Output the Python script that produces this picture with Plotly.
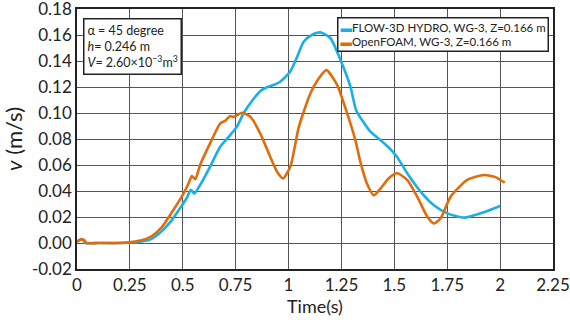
import plotly.graph_objects as go

# FLOW-3D HYDRO series
t_flow = [0, 0.01, 0.02, 0.03, 0.04, 0.1, 0.2, 0.3, 0.35, 0.4, 0.45, 0.488, 0.52, 0.538, 0.554,
          0.582, 0.63, 0.677, 0.724, 0.756, 0.788, 0.835, 0.867, 0.9, 0.929, 0.96, 1.008, 1.04,
          1.072, 1.11, 1.15, 1.198, 1.245, 1.293, 1.32, 1.387, 1.435, 1.47, 1.514, 1.561, 1.624,
          1.687, 1.75, 1.83, 1.908, 2.0]
v_flow = [0.001, 0.002, 0.003, 0.002, 0.0, 0.0, 0.0, 0.001, 0.003, 0.009, 0.018, 0.027, 0.035,
          0.041, 0.038, 0.0446, 0.059, 0.074, 0.083, 0.0895, 0.1, 0.111, 0.117, 0.12, 0.1215,
          0.124, 0.132, 0.143, 0.155, 0.16, 0.162, 0.1575, 0.141, 0.12, 0.102, 0.0856, 0.079,
          0.074, 0.066, 0.0536, 0.0395, 0.029, 0.0228, 0.0195, 0.0228, 0.0285]

# OpenFOAM series
t_of = [0, 0.01, 0.022, 0.035, 0.045, 0.1, 0.2, 0.3, 0.35, 0.4, 0.45, 0.5, 0.525, 0.543, 0.559,
        0.582, 0.63, 0.677, 0.70, 0.724, 0.74, 0.78, 0.82, 0.867, 0.914, 0.945, 0.974, 1.009,
        1.048, 1.103, 1.14, 1.179, 1.23, 1.277, 1.316, 1.34, 1.37, 1.403, 1.435, 1.475, 1.514,
        1.561, 1.608, 1.656, 1.687, 1.719, 1.766, 1.845, 1.924, 1.98, 2.022]
v_of = [0.001, 0.002, 0.003, 0.002, 0.0, 0.0, 0.0, 0.002, 0.005, 0.012, 0.024, 0.037, 0.045,
        0.0515, 0.049, 0.06, 0.077, 0.092, 0.094, 0.0977, 0.097, 0.1002, 0.097, 0.084, 0.066,
        0.055, 0.0497, 0.059, 0.089, 0.115, 0.126, 0.133, 0.1215, 0.0997, 0.079, 0.062, 0.046,
        0.0367, 0.042, 0.05, 0.0536, 0.0485, 0.0356, 0.0202, 0.015, 0.019, 0.0356, 0.0485,
        0.0523, 0.0505, 0.0464]

x_ticks = [0, 0.25, 0.5, 0.75, 1, 1.25, 1.5, 1.75, 2, 2.25]
x_labels = ["0", "0.25", "0.5", "0.75", "1", "1.25", "1.5", "1.75", "2", "2.25"]
y_ticks = [-0.02, 0, 0.02, 0.04, 0.06, 0.08, 0.10, 0.12, 0.14, 0.16, 0.18]
y_labels = ["-0.02", "0.00", "0.02", "0.04", "0.06", "0.08", "0.10", "0.12", "0.14", "0.16", "0.18"]

name_flow = "FLOW-3D HYDRO, WG-3, Z=0.166 m"
name_of = "OpenFOAM, WG-3, Z=0.166 m"
c_flow = "#1AAFE6"
c_of = "#E36C0A"

FONT = "Lato"

fig = go.Figure()
fig.add_trace(go.Scatter(x=t_flow, y=v_flow, mode="lines", name=name_flow,
                         line=dict(color=c_flow, width=2.6, shape="spline", smoothing=0.6),
                         showlegend=False))
fig.add_trace(go.Scatter(x=t_of, y=v_of, mode="lines", name=name_of,
                         line=dict(color=c_of, width=2.6, shape="spline", smoothing=0.6),
                         showlegend=False))

legend_text = (f"<span style='color:{c_flow}'>▬</span>{name_flow}<br>"
               f"<span style='color:{c_of}'>▬</span>{name_of}")
fig.add_annotation(xref="paper", yref="paper", x=0.9916, y=0.969, xanchor="right", yanchor="top",
                   text=legend_text, align="left", showarrow=False,
                   font=dict(family=FONT, size=11.5, color="#222"),
                   bordercolor="#222", borderwidth=1.5, borderpad=2, bgcolor="white")

info_text = ("α = 45 degree<br><i>h</i>= 0.246 m<br>"
             "<i>V</i>= 2.60×10<sup>−3</sup>m<sup>3</sup>")
fig.add_annotation(xref="paper", yref="paper", x=0.0126, y=0.965, xanchor="left", yanchor="top",
                   text=info_text, align="left", showarrow=False,
                   font=dict(family=FONT, size=12.5, color="#222"),
                   bordercolor="#222", borderwidth=1.5, borderpad=3, bgcolor="white")

fig.update_layout(
    width=570, height=324,
    margin=dict(l=77, r=17, t=9, b=55, autoexpand=False),
    paper_bgcolor="white", plot_bgcolor="white",
    font=dict(family=FONT, color="#222"),
)
fig.update_xaxes(range=[0, 2.25], tickvals=x_ticks, ticktext=x_labels, automargin=False,
                 showgrid=True, gridcolor="#555", gridwidth=1,
                 showline=True, linecolor="#222", linewidth=1.5, mirror=True,
                 ticks="", ticklabeloverflow="allow",
                 tickfont=dict(size=17, family=FONT, color="#222"),
                 title=dict(text="Time(s)", font=dict(size=18, family=FONT, color="#222"), standoff=0),
                 zeroline=False)
fig.update_yaxes(range=[-0.02, 0.18], tickvals=y_ticks, ticktext=y_labels, automargin=False,
                 showgrid=True, gridcolor="#555", gridwidth=1,
                 showline=True, linecolor="#222", linewidth=1.5, mirror=True,
                 ticks="", ticklabeloverflow="allow",
                 tickfont=dict(size=17, family=FONT, color="#222"),
                 title=dict(text="<i>v</i> (m/s)", font=dict(size=22, family=FONT, color="#222"), standoff=4),
                 zeroline=False)

fig.write_html("out.html", config={"displayModeBar": False},
               post_script="document.body.style.margin='0';document.body.style.overflow='hidden';")
